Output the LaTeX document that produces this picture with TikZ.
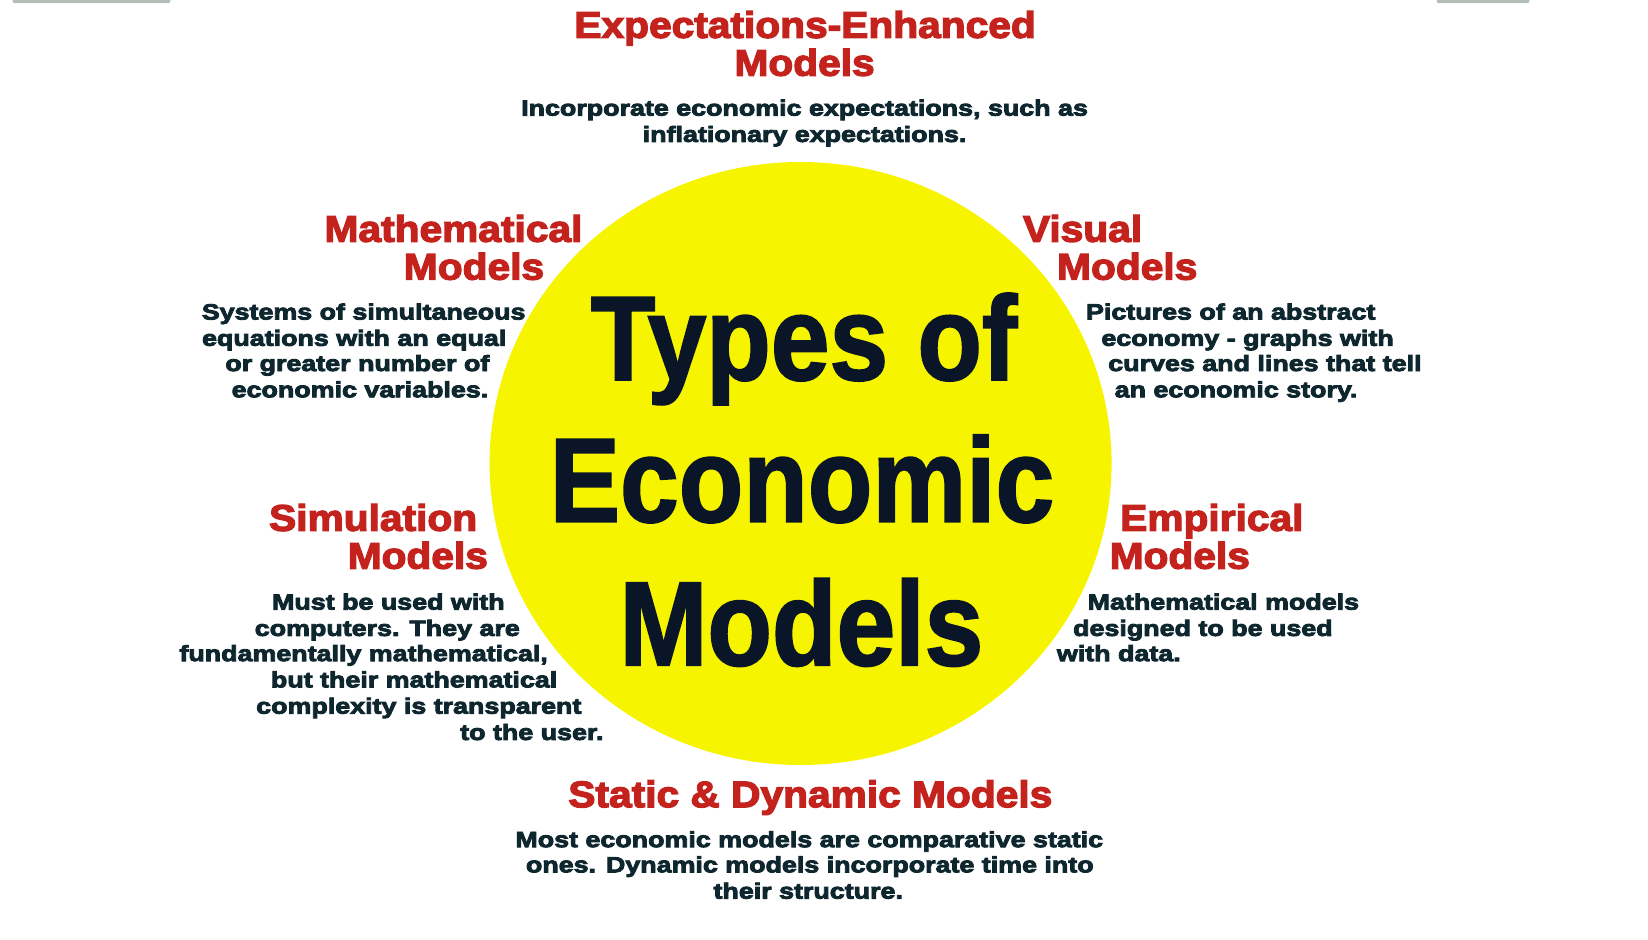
\documentclass[tikz,border=0pt]{standalone}
\usepackage{fontspec}
\usetikzlibrary{shapes.geometric}
\newfontfamily\headfam{Liberation Sans Bold}[FakeBold=3.5, FakeStretch=1.1]
\newfontfamily\bodyfam{Liberation Sans Bold}[FakeBold=4, FakeStretch=1.22]
\newfontfamily\titlefam{Liberation Sans Bold}[FakeBold=1.5, FakeStretch=0.88]
\newcommand\myheadfont{\headfam\fontsize{37}{40}\selectfont}
\newcommand\mybodyfont{\bodyfam\fontsize{22}{25}\selectfont}
\newcommand\mytitlefont{\titlefam\fontsize{120}{130}\selectfont}
\definecolor{headred}{RGB}{196,34,28}
\definecolor{bodyink}{RGB}{14,38,46}
\definecolor{titleink}{RGB}{10,22,40}
\definecolor{sunyellow}{RGB}{247,244,0}
\definecolor{scrap}{RGB}{178,190,182}
\tikzset{
  redhead/.style={font=\myheadfont, text=headred, anchor=base, inner sep=0pt},
  bodyline/.style={font=\mybodyfont, text=bodyink, anchor=base, inner sep=0pt},
  titleline/.style={font=\mytitlefont, text=titleink, anchor=base, inner sep=0pt},
}
\begin{document}
\begin{tikzpicture}[x=1.051pt, y=-1.051pt]
\useasboundingbox[fill=white] (0,0) rectangle (1568,894);
% scraps at the top edge
\fill[scrap, rounded corners=2pt] (12,-3) rectangle (162,3);
\fill[scrap, rounded corners=2pt] (1367,-3) rectangle (1455,3);
% central disc
\node[ellipse, fill=sunyellow, minimum width=622pt, minimum height=603pt, inner sep=0pt] (disc) at (761.7,441) {};
% title
\node[titleline] (t1) at (765,361.5) {Types of};
\node[titleline] (t2) at (763,496.5) {Economic};
\node[titleline] (t3) at (762.5,633) {Models};
% top
\node[redhead] (h1a) at (766,36) {Expectations-Enhanced};
\node[redhead] (h1b) at (765.5,72) {Models};
\node[bodyline] (b1a) at (765.5,110) {Incorporate economic expectations, such as};
\node[bodyline] (b1b) at (765.5,135) {inflationary expectations.};
% mathematical
\node[redhead] (h2a) at (431.5,230) {Mathematical};
\node[redhead] (h2b) at (451,266) {Models};
\node[bodyline] (b2a) at (346,304) {Systems of simultaneous};
\node[bodyline] (b2b) at (337,329) {equations with an equal};
\node[bodyline] (b2c) at (340,353) {or greater number of};
\node[bodyline] (b2d) at (342.5,378) {economic variables.};
% visual
\node[redhead] (h3a) at (1030,230) {Visual};
\node[redhead] (h3b) at (1072.5,266) {Models};
\node[bodyline] (b3a) at (1171,304) {Pictures of an abstract};
\node[bodyline] (b3b) at (1187,329) {economy - graphs with};
\node[bodyline] (b3c) at (1203.5,353) {curves and lines that tell};
\node[bodyline] (b3d) at (1176,378) {an economic story.};
% simulation
\node[redhead] (h4a) at (355,505) {Simulation};
\node[redhead] (h4b) at (397.5,541) {Models};
\node[bodyline] (b4a) at (369.5,580) {Must be used with};
\node[bodyline] (b4b) at (368.5,605) {computers. They are};
\node[bodyline] (b4c) at (346,629) {fundamentally mathematical,};
\node[bodyline] (b4d) at (394,654) {but their mathematical};
\node[bodyline] (b4e) at (398.5,679) {complexity is transparent};
\node[bodyline] (b4f) at (506,704) {to the user.};
% empirical
\node[redhead] (h5a) at (1153,505) {Empirical};
\node[redhead] (h5b) at (1122.5,541) {Models};
\node[bodyline] (b5a) at (1164,580) {Mathematical models};
\node[bodyline] (b5b) at (1144.5,605) {designed to be used};
\node[bodyline] (b5c) at (1064.5,629) {with data.};
% bottom
\node[redhead] (h6) at (771,768) {Static \& Dynamic Models};
\node[bodyline] (b6a) at (770,806) {Most economic models are comparative static};
\node[bodyline] (b6b) at (770.5,830) {ones. Dynamic models incorporate time into};
\node[bodyline] (b6c) at (769,855) {their structure.};
\end{tikzpicture}
\end{document}
